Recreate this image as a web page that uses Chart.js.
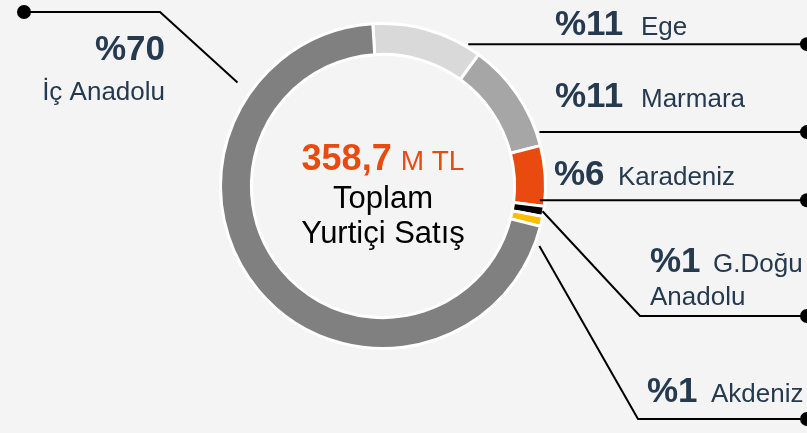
<!DOCTYPE html>
<html lang="tr">
<head>
    <meta charset="utf-8">
    <script src="https://cdn.jsdelivr.net/npm/chart.js@4.4.1/dist/chart.umd.min.js"></script>
    <style>
        body { margin: 0; background: #f4f4f4; }
        #wrap { width: 807px; height: 433px; position: relative; }
    </style>
</head>
<body>
<div id="wrap"><canvas id="pie"></canvas></div>
<script type="text/javascript">
    // veriler
    var regions = ['Ege', 'Marmara', 'Karadeniz', 'G.Doğu Anadolu', 'Akdeniz', 'İç Anadolu'];
    var shares = [11, 11, 6, 1, 1, 70];
    var colors = ['#d9d9d9', '#a6a6a6', '#e84a10', '#000000', '#f9bf00', '#808080'];
    var totalText = '358,7';
    var unitText = 'M TL';
    var centerLines = ['Toplam', 'Yurtiçi Satış'];

    // etiket yerleşimi (leader line + yazılar)
    var labelLayout = [
        { pctX: 555, y: 35, nameX: 641, lines: ['Ege'], da: -5, dr: 3, elbow: null, dotX: 807 },
        { pctX: 555, y: 107, nameX: 641, lines: ['Marmara'], da: -4.6, dr: 3, elbow: null, dotX: 807 },
        { pctX: 554, y: 185, nameX: 618, lines: ['Karadeniz'], da: -2, dr: -5, elbow: null, dotX: 807 },
        { pctX: 650, y: 272, nameX: 713, lines: ['G.Doğu', 'Anadolu'], da: -1.8, dr: -1, elbow: [640, 316], dotX: 807 },
        { pctX: 647, y: 402, nameX: 711, lines: ['Akdeniz'], da: 6.6, dr: 5, elbow: [638, 419], dotX: 807 },
        { pctX: 165, y: 60, nameX: 165, lines: ['İç Anadolu'], da: -51, dr: 16, elbow: [160, 12], dotX: 24, left: true }
    ];

    var textColor = '#263a4f';
    var fontName = '"Liberation Sans", Arial, sans-serif';

    var labelsPlugin = {
        id: 'labelsPlugin',
        afterDraw: function (chart) {
            var ctx = chart.ctx;
            var arcs = chart.getDatasetMeta(0).data;
            ctx.save();
            // merkez yazı
            var cx = arcs[0].x, cy = arcs[0].y;
            ctx.textBaseline = 'alphabetic';
            ctx.font = 'bold 36px ' + fontName;
            var w1 = ctx.measureText(totalText).width;
            ctx.font = '28px ' + fontName;
            var gap = 9;
            var w2 = ctx.measureText(unitText).width;
            var sx = cx - (w1 + gap + w2) / 2;
            ctx.fillStyle = '#e84a10';
            ctx.textAlign = 'left';
            ctx.font = 'bold 36px ' + fontName;
            ctx.fillText(totalText, sx, cy - 16);
            ctx.font = '28px ' + fontName;
            ctx.fillText(unitText, sx + w1 + gap, cy - 16);
            ctx.fillStyle = '#000';
            ctx.textAlign = 'center';
            ctx.font = '31px ' + fontName;
            ctx.fillText(centerLines[0], cx, cy + 22);
            ctx.fillText(centerLines[1], cx, cy + 57);

            // leader lines
            for (var i = 0; i < arcs.length; i++) {
                var arc = arcs[i];
                var lay = labelLayout[i];
                var a = arc.endAngle + lay.da * Math.PI / 180;
                var r = arc.outerRadius + lay.dr;
                var x0 = arc.x + r * Math.cos(a);
                var y0 = arc.y + r * Math.sin(a);
                var lineY = lay.elbow ? lay.elbow[1] : y0;
                ctx.strokeStyle = '#000';
                ctx.lineWidth = 2;
                ctx.beginPath();
                ctx.moveTo(x0, y0);
                if (lay.elbow) ctx.lineTo(lay.elbow[0], lay.elbow[1]);
                ctx.lineTo(lay.dotX, lineY);
                ctx.stroke();
                ctx.fillStyle = '#000';
                ctx.beginPath();
                ctx.arc(lay.dotX, lineY, 7, 0, Math.PI * 2);
                ctx.fill();

                // yazılar
                var pct = '%' + shares[i];
                ctx.fillStyle = textColor;
                if (lay.left) {
                    ctx.textAlign = 'right';
                    ctx.font = 'bold 35px ' + fontName;
                    ctx.fillText(pct, lay.pctX, lay.y);
                    ctx.font = '26px ' + fontName;
                    ctx.fillText(lay.lines[0], lay.nameX, lay.y + 40);
                } else {
                    ctx.textAlign = 'left';
                    ctx.font = 'bold 35px ' + fontName;
                    ctx.fillText(pct, lay.pctX, lay.y);
                    ctx.font = '26px ' + fontName;
                    ctx.fillText(lay.lines[0], lay.nameX, lay.y);
                    if (lay.lines[1]) ctx.fillText(lay.lines[1], lay.pctX, lay.y + 33);
                }
            }
            ctx.restore();
        }
    };

    new Chart(document.getElementById('pie'), {
        type: 'doughnut',
        data: {
            labels: regions,
            datasets: [{
                data: shares,
                backgroundColor: colors,
                borderColor: '#ffffff',
                borderWidth: 3
            }]
        },
        options: {
            responsive: true,
            maintainAspectRatio: false,
            animation: false,
            rotation: -3.6,
            cutout: '81%',
            layout: { padding: { left: 219, right: 260, top: 22, bottom: 83 } },
            plugins: {
                legend: { display: false },
                tooltip: { enabled: false }
            }
        },
        plugins: [labelsPlugin]
    });
</script>
</body>
</html>
